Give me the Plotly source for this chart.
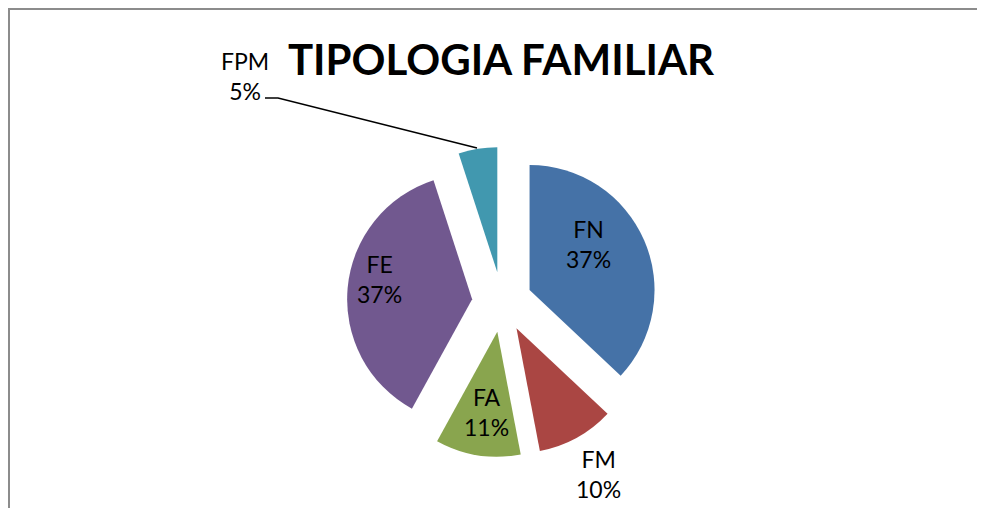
import plotly.graph_objects as go

categories = ["FN", "FM", "FA", "FE", "FPM"]
values = [37, 10, 11, 37, 5]
colors = ["#4572A7", "#AA4643", "#89A54E", "#71588F", "#4198AF"]

W, H = 985, 508
OFF = 8  # page body margin: figure origin sits 8px right/down of the window
FONT = "Lato"
LABEL_SIZE = 23


def px(x):
    return (x - OFF) / W


def py(y):
    return 1 - (y - OFF) / H


# pie centre (window pixels) and half size of its domain
cx, cy, half = 502, 302, 155

fig = go.Figure(go.Pie(
    labels=categories,
    values=values,
    sort=False,
    direction="clockwise",
    rotation=0,
    pull=0.24,
    marker=dict(colors=colors, line=dict(width=0)),
    textposition="none",
    showlegend=False,
    hoverinfo="label+percent",
    domain=dict(x=[px(cx - half), px(cx + half)],
                y=[py(cy + half), py(cy - half)]),
))

total = sum(values)
# data-label anchor points (window pixels), Excel style placement
label_pos = {"FN": (588, 244), "FM": (598, 474), "FA": (486, 412),
             "FE": (379, 279), "FPM": (245, 76)}
for name, v in zip(categories, values):
    x, y = label_pos[name]
    fig.add_annotation(x=px(x), y=py(y), xref="paper", yref="paper",
                       xanchor="center", yanchor="middle",
                       text=f"{name}<br>{round(100 * v / total)}%",
                       showarrow=False,
                       font=dict(family=FONT, size=LABEL_SIZE, color="#000000"))

fig.update_layout(
    width=W, height=H,
    margin=dict(l=0, r=0, t=0, b=0),
    paper_bgcolor="#FFFFFF",
    plot_bgcolor="#FFFFFF",
    title=dict(text="<b>TIPOLOGIA FAMILIAR</b>", x=px(501), y=py(60),
               xanchor="center", yanchor="middle",
               font=dict(family=FONT, size=42, color="#000000")),
    shapes=[
        dict(type="rect", xref="paper", yref="paper",
             x0=px(9), x1=1.2, y0=-0.2, y1=py(9),
             line=dict(color="#8C8C8C", width=2)),
        dict(type="path", xref="paper", yref="paper",
             path=f"M {px(265)},{py(98)} L {px(278)},{py(98)} L {px(477)},{py(148)}",
             line=dict(color="#000000", width=1.5)),
    ],
)

fig.write_html("out.html")
